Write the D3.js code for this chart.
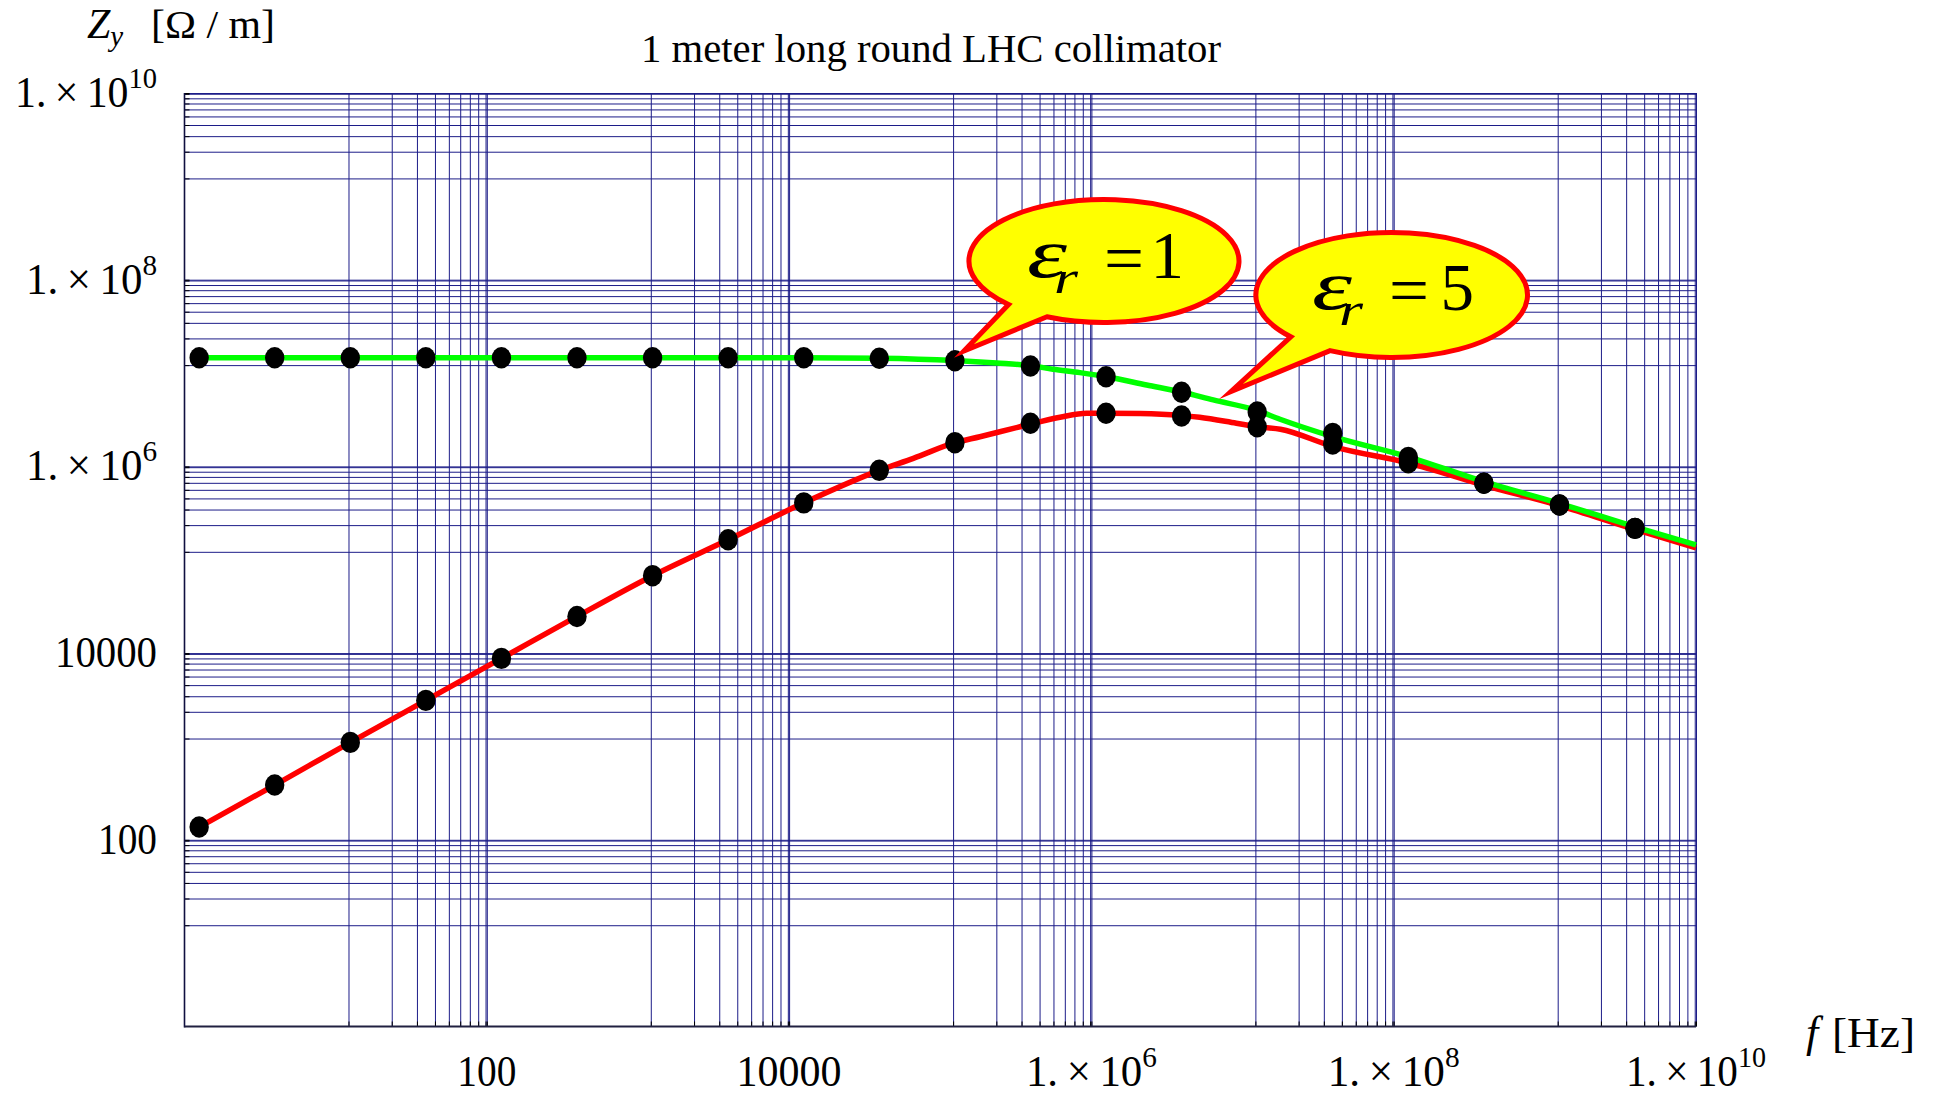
<!DOCTYPE html>
<html><head><meta charset="utf-8">
<script src="https://cdn.jsdelivr.net/npm/d3@7"></script>
<style>body{margin:0;background:#fff}svg{display:block}</style>
</head><body>
<svg id="chart" width="1937" height="1096"></svg>
<script>
// ---------- data ----------
const tickValues = [1e2, 1e4, 1e6, 1e8, 1e10];
const tickMain   = ["100", "10000", "1.\u2009×\u200910", "1.\u2009×\u200910", "1.\u2009×\u200910"];
const tickSup    = ["", "", "6", "8", "10"];
const xTickWidths = [59, 105, 131, 132, 140];
const yTickWidths = [59, 102, 131, 131, 142];
// grid lines: one group per odd decade
const gridDecades = [1, 1e2, 1e4, 1e6, 1e8];
const gridSteps = [12.16, 23.5, 34.5, 45.4, 56.1, 66.7, 77.2, 87.7, 98.1, 100];

const dotFreq = [1.25, 3.95, 12.5, 39.5, 125, 395, 1250, 3950, 12500, 39500,
                 1.25e5, 3.95e5, 1.25e6, 3.95e6, 1.25e7, 3.95e7, 1.25e8, 3.95e8, 1.25e9, 3.95e9];
const dotZ_er5 = [137, 386, 1105, 3113, 8770, 24700, 67500, 163600, 407000, 908000,
                  1.795e6, 2.90e6, 3.71e6, 3.47e6, 2.66e6, 1.74e6, 1.096e6, 6.6e5, 3.86e5, 2.17e5];
const dotZ_er1 = [1.46e7, 1.46e7, 1.46e7, 1.46e7, 1.46e7, 1.46e7, 1.46e7, 1.46e7, 1.46e7, 1.44e7,
                  1.356e7, 1.19e7, 9.14e6, 6.22e6, 3.83e6, 2.26e6, 1.25e6, 6.6e5, 3.86e5, 2.17e5];

const curveF_er5 = [1.25, 3.95, 12.5, 39.5, 125, 395, 1250, 3950, 12500, 39500, 66400, 1.25e5, 1.83e5,
                    3.37e5, 6.2e5, 9.3e5, 1.25e6, 2.1e6, 3.86e6, 5.2e6, 9.1e6, 1.25e7, 1.78e7, 3.98e7,
                    1.28e8, 3.9e8, 1.25e9, 3.95e9, 1e10];
const curveZ_er5 = [137, 386, 1105, 3113, 8770, 24700, 67500, 163600, 407000, 908000, 1.22e6, 1.795e6, 2.08e6,
                    2.66e6, 3.36e6, 3.71e6, 3.71e6, 3.68e6, 3.52e6, 3.36e6, 2.9e6, 2.66e6, 2.5e6, 1.63e6,
                    1.08e6, 6.32e5, 3.81e5, 2.11e5, 1.34e5];
const curveF_er1 = [1.25, 125, 12500, 39500, 1.25e5, 2.36e5, 3.95e5, 5.57e5, 8.4e5, 1.26e6, 2.32e6, 4.02e6,
                    6.4e6, 1.23e7, 1.77e7, 3.96e7, 1.26e8, 3.9e8, 1.26e9, 3.98e9, 1e10];
const curveZ_er1 = [1.46e7, 1.46e7, 1.46e7, 1.44e7, 1.36e7, 1.28e7, 1.2e7, 1.1e7, 1.01e7, 9.14e6, 7.45e6, 6.22e6,
                    5.15e6, 4.0e6, 3.2e6, 2.08e6, 1.26e6, 6.9e5, 4.0e5, 2.24e5, 1.44e5];

// ---------- setup ----------
const FONT = "'Liberation Serif','Times New Roman',serif";
const svg = d3.select("#chart");
const x = d3.scaleLog().domain([1, 1e10]).range([184.5, 1696]);
const y = d3.scaleLog().domain([1, 1e10]).range([1026.5, 93]);
const plotW = x(1e10) - x(1), plotH = y(1) - y(1e10);
const gridVals = gridDecades.flatMap(d => gridSteps.map(s => s * d));
const GRID = "#1c1c88";

// grid lines
const gxg = svg.append("g").attr("transform", `translate(0,${y(1)})`)
  .call(d3.axisBottom(x).tickValues(gridVals).tickSize(-plotH).tickFormat(""));
gxg.select(".domain").remove();
gxg.selectAll("line").attr("stroke", GRID).attr("stroke-width", 1);
const gyg = svg.append("g").attr("transform", `translate(${x(1)},0)`)
  .call(d3.axisLeft(y).tickValues(gridVals).tickSize(-plotW).tickFormat(""));
gyg.select(".domain").remove();
gyg.selectAll("line").attr("stroke", GRID).attr("stroke-width", 1);

// small inward tick marks
const txg = svg.append("g").attr("transform", `translate(0,${y(1)})`)
  .call(d3.axisBottom(x).tickValues(gridVals).tickSize(-5).tickFormat(""));
txg.select(".domain").remove();
txg.selectAll("line").attr("stroke", "#000").attr("stroke-width", 1);
const tyg = svg.append("g").attr("transform", `translate(${x(1)},0)`)
  .call(d3.axisLeft(y).tickValues(gridVals).tickSize(-5).tickFormat(""));
tyg.select(".domain").remove();
tyg.selectAll("line").attr("stroke", "#000").attr("stroke-width", 1);

// axis lines
svg.append("line").attr("x1", x(1)).attr("x2", x(1)).attr("y1", y(1e10)).attr("y2", y(1) + 1)
  .attr("stroke", "#101040").attr("stroke-width", 1.6);
svg.append("line").attr("x1", x(1)).attr("x2", x(1e10)).attr("y1", y(1)).attr("y2", y(1))
  .attr("stroke", "#202040").attr("stroke-width", 1.8);

// tick labels
function label(px, py, main, sup, anchor, width) {
  const t = svg.append("text").attr("x", px).attr("y", py).attr("text-anchor", anchor)
    .attr("font-family", FONT).attr("font-size", 44).attr("fill", "#000")
    .attr("textLength", width).attr("lengthAdjust", "spacingAndGlyphs");
  t.append("tspan").text(main);
  if (sup) t.append("tspan").attr("dy", -19).attr("font-size", 30).text(sup);
  return t;
}
tickValues.forEach((v, i) => {
  label(x(v), 1086, tickMain[i], tickSup[i], "middle", xTickWidths[i]);
  label(157, y(v) + 14, tickMain[i], tickSup[i], "end", yTickWidths[i]);
});

// axis titles
const yt = svg.append("text").attr("x", 87).attr("y", 38).attr("font-family", FONT).attr("font-size", 42);
yt.append("tspan").attr("font-style", "italic").text("Z");
yt.append("tspan").attr("font-style", "italic").attr("font-size", 29).attr("dy", 8).text("y");
svg.append("text").attr("x", 151).attr("y", 38).attr("font-family", FONT).attr("font-size", 41)
  .attr("textLength", 124).attr("lengthAdjust", "spacingAndGlyphs").text("[Ω / m]");

svg.append("text").attr("x", 1806).attr("y", 1047).attr("font-family", FONT).attr("font-size", 44)
  .attr("font-style", "italic").text("f");
svg.append("text").attr("x", 1832).attr("y", 1047).attr("font-family", FONT).attr("font-size", 42)
  .attr("textLength", 83).attr("lengthAdjust", "spacingAndGlyphs").text("[Hz]");

// title
svg.append("text").attr("x", 641).attr("y", 62).attr("font-family", FONT).attr("font-size", 41)
  .attr("textLength", 580).attr("lengthAdjust", "spacingAndGlyphs")
  .text("1 meter  long  round  LHC collimator");

// curves
const line = d3.line().x(d => x(d[0])).y(d => y(d[1])).curve(d3.curveMonotoneX);
svg.append("path").datum(d3.zip(curveF_er5, curveZ_er5)).attr("d", line)
  .attr("fill", "none").attr("stroke", "#ff0000").attr("stroke-width", 5.5);
svg.append("path").datum(d3.zip(curveF_er1, curveZ_er1)).attr("d", line)
  .attr("fill", "none").attr("stroke", "#00ff00").attr("stroke-width", 5.5);

// dots
const dots = svg.append("g");
[dotZ_er5, dotZ_er1].forEach(zs => {
  dots.selectAll(null).data(d3.zip(dotFreq, zs)).enter().append("ellipse")
    .attr("cx", d => x(d[0])).attr("cy", d => y(d[1])).attr("rx", 9.7).attr("ry", 10.7).attr("fill", "#000");
});

// callouts
function callout(cx, cy, rx, ry, a1, a2, tip) {
  const r = Math.PI / 180;
  const A = [cx + rx * Math.cos(a1 * r), cy + ry * Math.sin(a1 * r)];
  const B = [cx + rx * Math.cos(a2 * r), cy + ry * Math.sin(a2 * r)];
  const p = `M${A[0]},${A[1]} A${rx},${ry} 0 1 1 ${B[0]},${B[1]} L${tip[0]},${tip[1]} Z`;
  svg.append("path").attr("d", p).attr("fill", "#ffff00").attr("stroke", "#ff0000")
    .attr("stroke-width", 5).attr("stroke-linejoin", "miter").attr("stroke-miterlimit", 12);
}
function calloutText(ex, base, xr, xeq, xn, num) {
  const g = svg.append("g").attr("font-family", FONT).attr("fill", "#000");
  g.append("text").attr("x", ex).attr("y", base).attr("font-size", 70).attr("font-style", "italic")
    .attr("textLength", 40).attr("lengthAdjust", "spacingAndGlyphs").text("ε");
  g.append("text").attr("x", xr).attr("y", base + 16).attr("font-size", 47).attr("font-style", "italic")
    .attr("textLength", 24).attr("lengthAdjust", "spacingAndGlyphs").text("r");
  g.append("text").attr("x", xeq).attr("y", base + 4).attr("font-size", 68)
    .attr("textLength", 40).attr("lengthAdjust", "spacingAndGlyphs").text("=");
  g.append("text").attr("x", xn).attr("y", base + 1).attr("font-size", 67).text(num);
}
callout(1104, 261, 135, 61.5, 135, 115, [964, 351]);
calloutText(1027, 277, 1054, 1104, 1150.5, "1");
callout(1391.7, 295, 135.8, 62.5, 138, 117, [1231, 391.5]);
calloutText(1312, 309, 1339, 1389, 1440.5, "5");
</script>
</body></html>
